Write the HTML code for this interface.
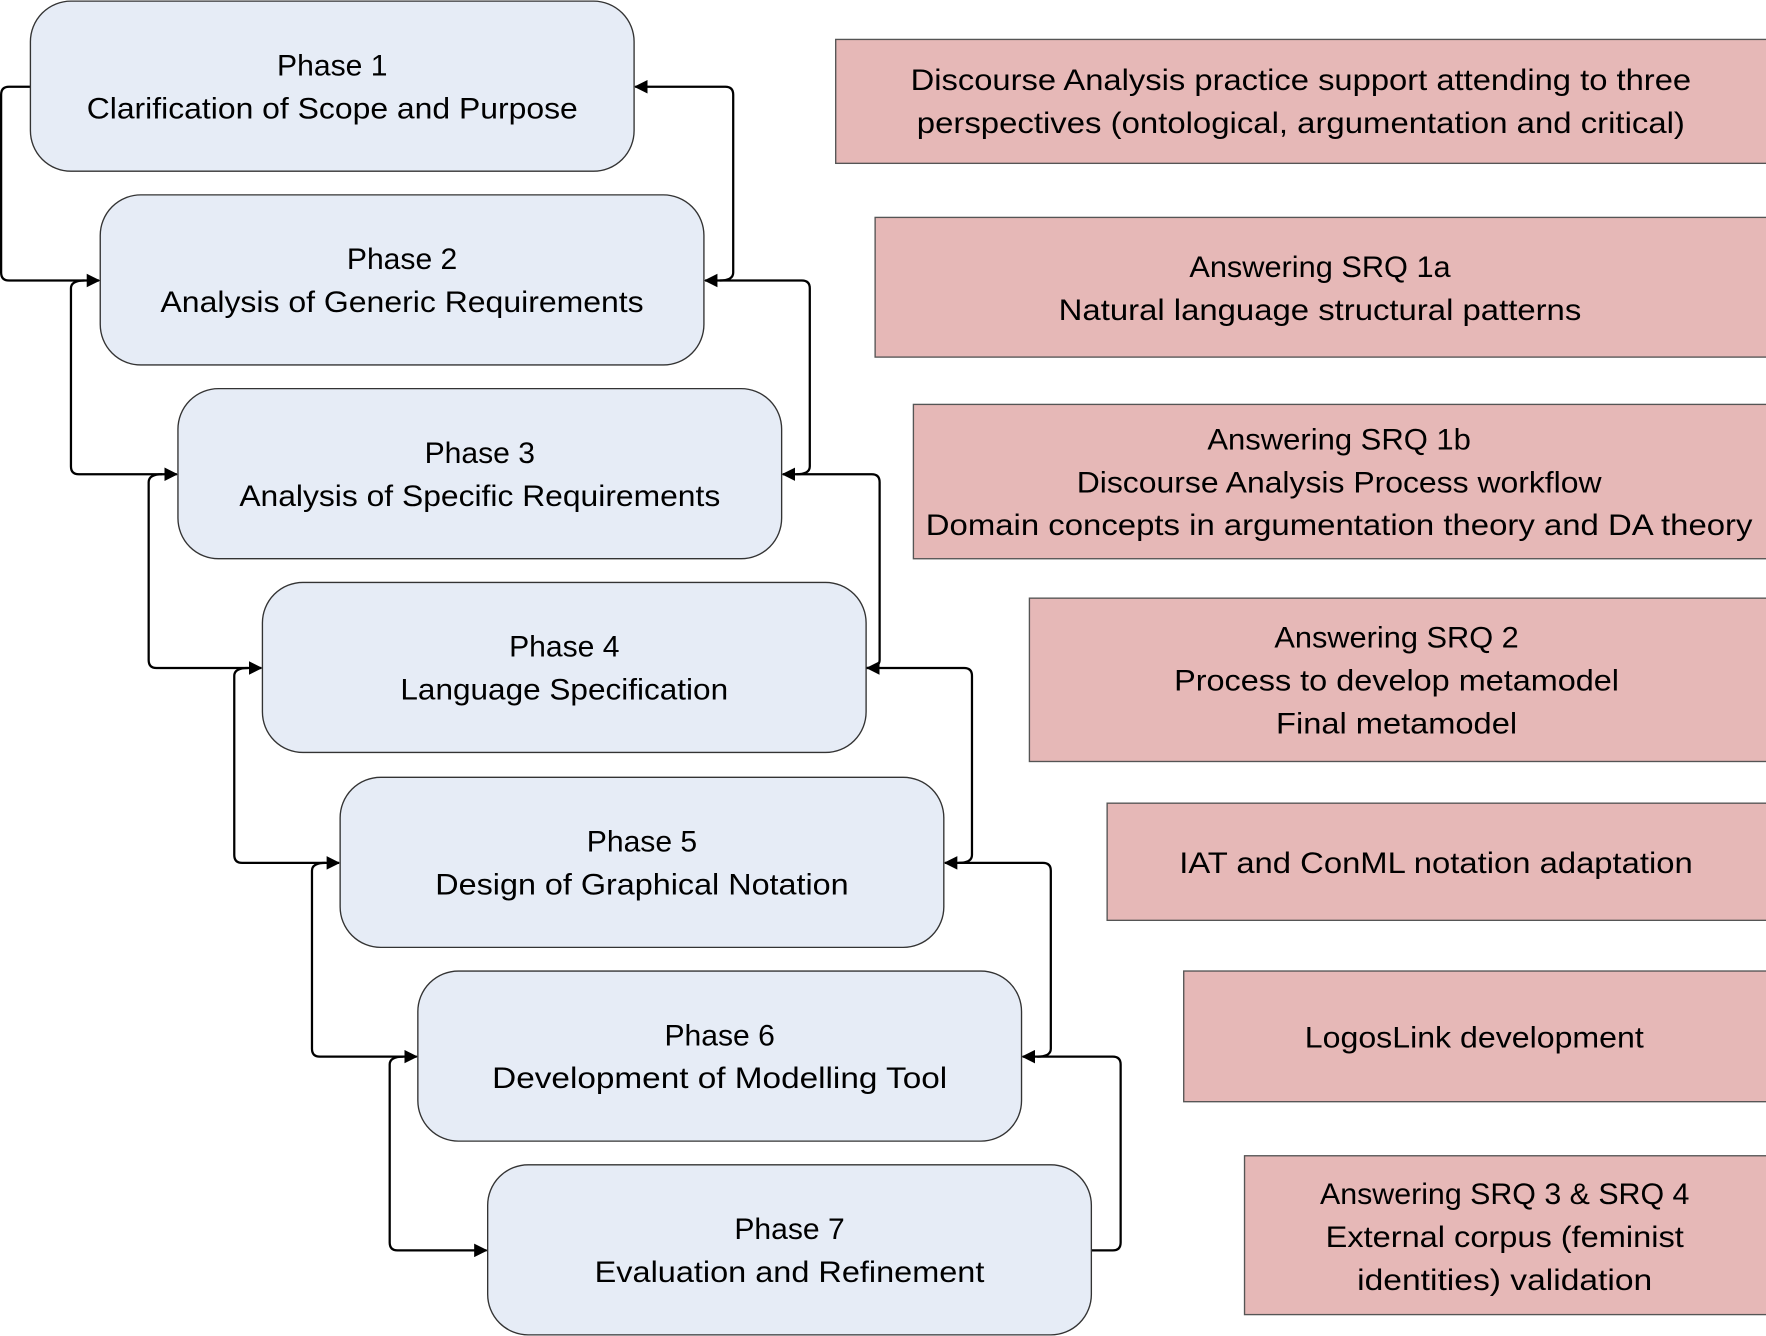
<!DOCTYPE html>
<html><head><meta charset="utf-8"><style>
html,body{margin:0;padding:0;background:#fff;}
svg{display:block;}
text{font-family:"Liberation Sans",sans-serif;font-size:26px;fill:#000;text-anchor:middle;}
</style></head><body>
<svg width="1766" height="1336" viewBox="0 0 1568 1186" preserveAspectRatio="none" xmlns="http://www.w3.org/2000/svg">
<defs><marker id="a" markerWidth="12" markerHeight="12" refX="11" refY="6" orient="auto" markerUnits="userSpaceOnUse"><path d="M0,0 L12,6 L0,12 z" fill="#000"/></marker></defs>
<g fill="none" stroke="#000" stroke-width="2">
<path d="M27,77 H8 Q1,77 1,84 V242 Q1,249 8,249 H88" marker-end="url(#a)"/>
<path d="M75,249 Q63,249 63,256 V414 Q63,421 70,421 H157" marker-end="url(#a)"/>
<path d="M144,421 Q132,421 132,428 V586 Q132,593 139,593 H232" marker-end="url(#a)"/>
<path d="M220,593 Q208,593 208,600 V759 Q208,766 215,766 H301" marker-end="url(#a)"/>
<path d="M289,766 Q277,766 277,773 V931 Q277,938 284,938 H370" marker-end="url(#a)"/>
<path d="M358,938 Q346,938 346,945 V1103 Q346,1110 353,1110 H432" marker-end="url(#a)"/>
<path d="M969,1110 H988 Q995,1110 995,1103 V945 Q995,938 988,938 H908" marker-end="url(#a)"/>
<path d="M921,938 Q933,938 933,931 V773 Q933,766 926,766 H839" marker-end="url(#a)"/>
<path d="M851,766 Q863,766 863,759 V600 Q863,593 856,593 H770" marker-end="url(#a)"/>
<path d="M769,593 Q781,593 781,586 V428 Q781,421 774,421 H695" marker-end="url(#a)"/>
<path d="M707,421 Q719,421 719,414 V256 Q719,249 712,249 H626" marker-end="url(#a)"/>
<path d="M639,249 Q651,249 651,242 V84 Q651,77 644,77 H564" marker-end="url(#a)"/>
</g>
<g fill="#e6ecf6" stroke="#333" stroke-width="1.2">
<rect x="27" y="1" width="536" height="151" rx="36"/>
<rect x="89" y="173" width="536" height="151" rx="36"/>
<rect x="158" y="345" width="536" height="151" rx="36"/>
<rect x="233" y="517" width="536" height="151" rx="36"/>
<rect x="302" y="690" width="536" height="151" rx="36"/>
<rect x="371" y="862" width="536" height="151" rx="36"/>
<rect x="433" y="1034" width="536" height="151" rx="36"/>
</g>
<g>
<text x="295" y="67" textLength="98" lengthAdjust="spacingAndGlyphs">Phase 1</text>
<text x="295" y="105" textLength="436" lengthAdjust="spacingAndGlyphs">Clarification of Scope and Purpose</text>
<text x="357" y="239" textLength="98" lengthAdjust="spacingAndGlyphs">Phase 2</text>
<text x="357" y="277" textLength="429" lengthAdjust="spacingAndGlyphs">Analysis of Generic Requirements</text>
<text x="426" y="411" textLength="98" lengthAdjust="spacingAndGlyphs">Phase 3</text>
<text x="426" y="449" textLength="427" lengthAdjust="spacingAndGlyphs">Analysis of Specific Requirements</text>
<text x="501" y="583" textLength="98" lengthAdjust="spacingAndGlyphs">Phase 4</text>
<text x="501" y="621" textLength="291" lengthAdjust="spacingAndGlyphs">Language Specification</text>
<text x="570" y="756" textLength="98" lengthAdjust="spacingAndGlyphs">Phase 5</text>
<text x="570" y="794" textLength="367" lengthAdjust="spacingAndGlyphs">Design of Graphical Notation</text>
<text x="639" y="928" textLength="98" lengthAdjust="spacingAndGlyphs">Phase 6</text>
<text x="639" y="966" textLength="404" lengthAdjust="spacingAndGlyphs">Development of Modelling Tool</text>
<text x="701" y="1100" textLength="98" lengthAdjust="spacingAndGlyphs">Phase 7</text>
<text x="701" y="1138" textLength="346" lengthAdjust="spacingAndGlyphs">Evaluation and Refinement</text>
</g>
<g fill="#e6b8b7" stroke="#555" stroke-width="1.2">
<rect x="742" y="35" width="830" height="110"/>
<rect x="777" y="193" width="795" height="124"/>
<rect x="811" y="359" width="761" height="137"/>
<rect x="914" y="531" width="658" height="145"/>
<rect x="983" y="713" width="589" height="104"/>
<rect x="1051" y="862" width="521" height="116"/>
<rect x="1105" y="1026" width="467" height="141"/>
</g>
<g>
<text x="1155" y="80" textLength="693" lengthAdjust="spacingAndGlyphs">Discourse Analysis practice support attending to three</text>
<text x="1155" y="118" textLength="682" lengthAdjust="spacingAndGlyphs">perspectives (ontological, argumentation and critical)</text>
<text x="1172" y="246" textLength="232" lengthAdjust="spacingAndGlyphs">Answering SRQ 1a</text>
<text x="1172" y="284" textLength="464" lengthAdjust="spacingAndGlyphs">Natural language structural patterns</text>
<text x="1189" y="399" textLength="234" lengthAdjust="spacingAndGlyphs">Answering SRQ 1b</text>
<text x="1189" y="437" textLength="466" lengthAdjust="spacingAndGlyphs">Discourse Analysis Process workflow</text>
<text x="1189" y="475" textLength="734" lengthAdjust="spacingAndGlyphs">Domain concepts in argumentation theory and DA theory</text>
<text x="1240" y="575" textLength="217" lengthAdjust="spacingAndGlyphs">Answering SRQ 2</text>
<text x="1240" y="613" textLength="395" lengthAdjust="spacingAndGlyphs">Process to develop metamodel</text>
<text x="1240" y="651" textLength="214" lengthAdjust="spacingAndGlyphs">Final metamodel</text>
<text x="1275" y="775" textLength="456" lengthAdjust="spacingAndGlyphs">IAT and ConML notation adaptation</text>
<text x="1309" y="930" textLength="301" lengthAdjust="spacingAndGlyphs">LogosLink development</text>
<text x="1336" y="1069" textLength="328" lengthAdjust="spacingAndGlyphs">Answering SRQ 3 &amp; SRQ 4</text>
<text x="1336" y="1107" textLength="318" lengthAdjust="spacingAndGlyphs">External corpus (feminist</text>
<text x="1336" y="1145" textLength="262" lengthAdjust="spacingAndGlyphs">identities) validation</text>
</g>
</svg>
</body></html>
